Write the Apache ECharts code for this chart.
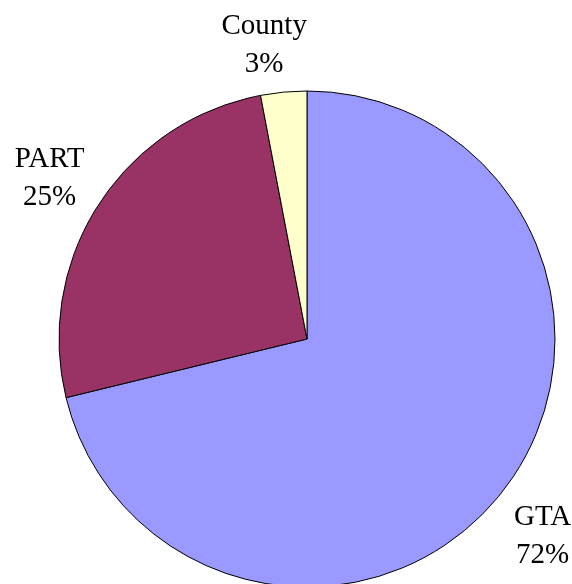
<!DOCTYPE html>
<html>
<head>
<meta charset="utf-8">
<script src="https://cdn.jsdelivr.net/npm/echarts@6/dist/echarts.min.js"></script>
<style>
  html, body { margin: 0; padding: 0; background: #fff; }
  #chart { width: 572px; height: 584px; }
</style>
</head>
<body>
<div id="chart"></div>
<script>
// shares
var categories = ['GTA', 'PART', 'County'];
var values = [71.2, 25.8, 3.0];
var pctLabels = ['72%', '25%', '3%'];
var colors = ['#9999FF', '#993366', '#FFFFCC'];
// small nudges so the labels sit where the original put them
var labelOffsets = [[-5, 8], [0, 5], [-14, 11]];

var sliceData = categories.map(function (name, i) {
    return { name: name, value: values[i], itemStyle: { color: colors[i] } };
});

var chart = echarts.init(document.getElementById('chart'));
chart.setOption({
    animation: false,
    backgroundColor: '#fff',
    series: [
        {
            type: 'pie',
            center: [307, 339],
            radius: 248,
            startAngle: 90,
            clockwise: true,
            silent: true,
            itemStyle: { borderColor: '#000', borderWidth: 1 },
            label: { show: false },
            labelLine: { show: false },
            data: sliceData
        },
        {
            // invisible ring, only there to carry the labels
            type: 'pie',
            center: [307, 339],
            radius: [302, 304],
            startAngle: 90,
            clockwise: true,
            silent: true,
            itemStyle: { color: 'transparent', borderWidth: 0 },
            label: {
                show: true,
                position: 'inside',
                color: '#000',
                fontFamily: 'Liberation Serif',
                fontSize: 29,
                lineHeight: 38,
                formatter: function (p) {
                    return p.name + '\n' + pctLabels[p.dataIndex];
                }
            },
            labelLine: { show: false },
            data: sliceData.map(function (d, i) {
                return { name: d.name, value: d.value, label: { offset: labelOffsets[i] } };
            })
        }
    ]
});
</script>
</body>
</html>
